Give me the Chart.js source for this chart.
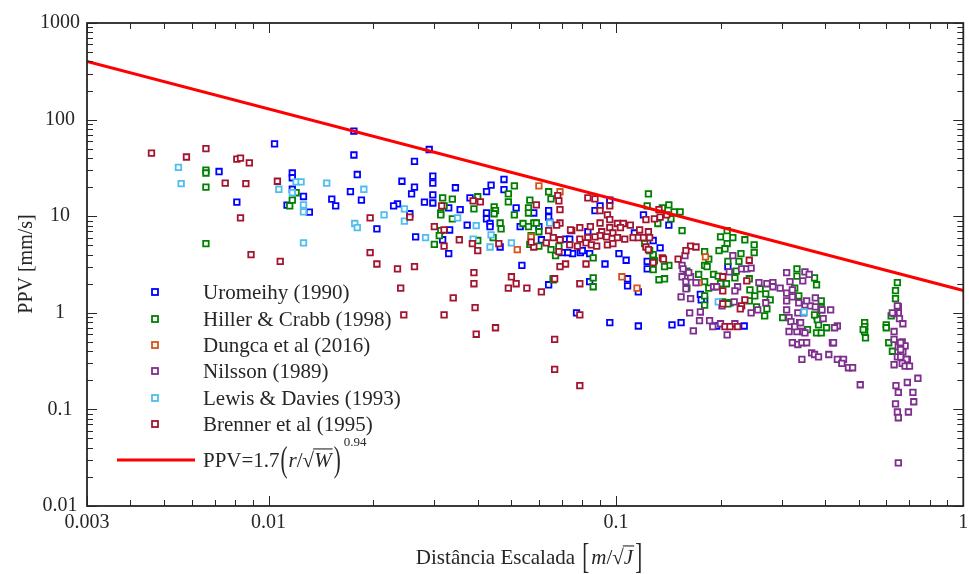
<!DOCTYPE html>
<html>
<head>
<meta charset="utf-8">
<script src="https://cdn.jsdelivr.net/npm/chart.js@4.4.1/dist/chart.umd.min.js"></script>
<style>
  html, body { margin: 0; padding: 0; background: #fff; }
  canvas { display: block; }
</style>
</head>
<body>
<canvas id="ppvChart" width="969" height="574"></canvas>
<script>
// dados: [distância escalada, PPV]
const uromeihy = [
  [0.0104,56],[0.0072,29],[0.0117,28],[0.0117,25],[0.0117,19],[0.0126,16],[0.0113,13],[0.0131,11],[0.0081,14],
  [0.0176,76],[0.029,49],[0.0176,43],[0.0263,37],[0.018,27],[0.0242,23],[0.0297,26],[0.0297,22],[0.0263,20],
  [0.0172,18],[0.0152,15],[0.0185,14.7],[0.0156,12.8],[0.0258,17],[0.0297,16.6],[0.0345,19.7],[0.0235,13.4],
  [0.0229,12.8],[0.0281,14],[0.0297,13.7],[0.0255,10.6],[0.0205,7.4],[0.0265,6.1],[0.0332,7.2],[0.033,12.2],
  [0.0356,11.7],[0.0317,5.7],[0.033,4.1],[0.0373,8.1],[0.038,15.5],[0.0437,21],[0.0476,24],[0.0424,18],
  [0.0476,18.8],[0.0424,10.8],[0.0424,9.4],[0.0434,8.4],[0.0434,7.8],[0.0464,4.8],[0.0516,12.2],
  [0.0536,3.1],[0.064,1.95],[0.077,1.0],[0.096,0.79],[0.084,2.1],[0.093,3.2],[0.079,4.3],[0.075,4.1],[0.061,5.7],
  [0.058,10.8],[0.064,11.4],[0.064,9.8],[0.0645,8.7],[0.060,7.8],[0.053,7.8],[0.0716,5.8],[0.0736,5.8],[0.083,6.9],
  [0.070,4.2],[0.0727,4.2],[0.079,4.2],[0.084,4.1],[0.080,4.4],[0.102,4.1],[0.107,3.5],[0.087,11.4],[0.090,12.8],
  [0.096,14.7],[0.113,6.7],[0.120,10.3],[0.128,5.6],[0.134,4.7],[0.142,8.1],[0.123,3.4],[0.123,2.85],[0.108,2.25],
  [0.108,1.9],[0.116,1.65],[0.177,1.5],[0.21,3.0],[0.195,0.73],[0.234,0.73],[0.154,0.79],[0.145,0.75],[0.116,0.73],
  [0.175,1.55],[0.18,1.36],[0.176,1.36]
];
const hillerCrabb = [
  [0.0066,30],[0.0066,28],[0.0066,20],[0.0066,5.2],[0.012,17.5],[0.0117,14.7],[0.0115,12.8],
  [0.0317,15.5],[0.0338,15],[0.032,12.8],[0.0313,10.8],[0.0313,10.3],[0.0338,9.4],[0.0313,7.1],[0.031,6.3],[0.030,5.1],
  [0.040,15.9],[0.039,11.9],[0.0446,12.5],[0.045,11.4],[0.0446,10.6],[0.0464,8.5],[0.0467,7.4],[0.049,14.1],[0.049,17],
  [0.051,20.6],[0.051,10.3],[0.0443,6.0],[0.040,5.6],
  [0.086,2.3],[0.086,1.86],[0.066,2.2],[0.086,3.7],[0.065,4.5],[0.0685,4.9],
  [0.064,17.9],[0.065,15.1],[0.0565,14.7],[0.056,12.2],[0.056,10.8],[0.054,8.4],[0.058,8.5],[0.059,8.5],[0.060,6.9],
  [0.056,7.8],[0.057,6.3],[0.0565,5.1],[0.060,4.9],[0.067,3.9],[0.066,2.25],
  [0.124,17],[0.123,12.8],[0.136,12.2],[0.142,13.1],[0.147,11.1],[0.153,11.1],[0.144,9.4],[0.132,8.4],[0.121,5.2],
  [0.128,3.8],[0.142,3.1],[0.138,2.25],[0.133,2.2],[0.155,7.1],[0.173,2.5],[0.18,4.3],[0.18,3.1],
  [0.20,6.1],[0.217,6.0],[0.209,5.2],[0.206,4.6],[0.198,4.4],[0.235,5.7],[0.25,5.05],[0.25,4.2],[0.226,3.4],[0.21,3.4],
  [0.222,2.7],[0.22,2.3],[0.208,2.0],[0.20,2.0],[0.191,2.5],[0.197,2.4],[0.183,3.0],[0.185,3.6],[0.18,2.1],[0.185,1.8],
  [0.18,1.5],[0.18,1.2],[0.16,2.7],[0.16,2.36],[0.16,1.8],[0.138,3.0],[0.128,4.0],[0.129,3.45],[0.128,2.8],[0.125,4.4],
  [0.251,1.5],[0.27,1.57],[0.278,1.36],[0.272,1.1],[0.268,0.93],[0.302,0.89],[0.26,1.77],[0.203,1.3],[0.213,1.27],
  [0.243,1.73],[0.242,2.25],[0.242,1.33],[0.209,7.1],[0.229,4.1],[0.21,1.24],[0.254,1.15],
  [0.332,2.85],[0.332,2.4],[0.373,2.3],[0.378,1.95],[0.327,1.8],[0.336,1.5],[0.39,1.33],[0.39,1.13],[0.378,0.93],
  [0.387,0.87],[0.404,0.70],[0.383,0.75],[0.378,0.62],[0.39,0.62],[0.356,0.67],[0.38,0.85],[0.373,0.95],[0.39,1.07],
  [0.52,0.79],[0.52,0.72],[0.52,0.64],[0.523,0.55],[0.515,0.67],[0.60,0.75],[0.60,0.70],[0.646,2.05],[0.638,1.7],
  [0.638,1.4],[0.62,0.93],[0.61,0.49],[0.625,0.40],[0.65,1.15]
];
const dungca = [
  [0.052,4.5],[0.060,20.6],[0.069,17.9],[0.057,6.1],[0.104,2.36],[0.115,1.8],[0.181,3.8],[0.173,2.05]
];
const nilsson = [
  [0.158,3.9],[0.155,3.1],[0.156,2.85],[0.155,2.36],[0.159,2.1],[0.164,2.36],[0.17,2.05],[0.154,1.46],[0.164,1.4],
  [0.162,2.6],[0.159,1.77],[0.163,1.0],[0.175,1.02],[0.174,0.83],[0.167,0.65],[0.186,0.83],[0.19,0.72],[0.20,0.77],
  [0.209,0.59],[0.22,0.77],[0.217,3.9],[0.212,2.65],[0.224,1.86],[0.22,1.69],[0.219,1.3],[0.23,2.85],[0.238,2.85],
  [0.245,2.9],[0.191,1.86],[0.195,1.86],[0.202,1.18],[0.245,1.0],[0.256,1.07],[0.27,1.27],[0.258,2.05],[0.272,2.0],
  [0.283,2.05],[0.283,1.86],[0.297,1.8],[0.31,2.6],[0.317,2.1],[0.31,1.6],[0.31,1.33],[0.31,1.07],[0.315,0.89],
  [0.315,0.64],[0.322,0.49],[0.334,0.47],[0.343,0.49],[0.354,0.49],[0.338,0.79],[0.345,0.64],[0.332,0.64],
  [0.366,0.385],[0.373,0.37],[0.383,0.35],[0.343,0.33],[0.41,0.37],[0.42,0.49],[0.434,0.73],[0.426,0.70],[0.434,0.33],
  [0.452,0.33],[0.447,0.30],[0.467,0.27],[0.48,0.27],[0.505,0.18],[0.415,1.07],[0.35,2.65],[0.36,2.5],[0.345,2.14],
  [0.322,1.73],[0.322,1.46],[0.336,1.27],[0.35,1.21],[0.363,1.18],[0.354,1.33],[0.375,1.43],[0.375,1.15],[0.392,1.07],
  [0.334,1.0],[0.347,1.0],[0.319,0.81],[0.327,0.72],[0.34,0.79],[0.35,0.62],[0.395,0.87],[0.423,0.49],
  [0.65,1.15],[0.65,1.0],[0.632,0.98],[0.655,0.87],[0.67,0.77],[0.632,0.64],[0.632,0.53],[0.667,0.50],[0.65,0.445],
  [0.67,0.445],[0.68,0.455],[0.67,0.395],[0.646,0.35],[0.69,0.33],[0.66,0.49],[0.66,0.415],[0.66,0.35],[0.686,0.33],
  [0.632,0.29],[0.667,0.30],[0.68,0.28],[0.70,0.28],[0.74,0.21],[0.69,0.19],[0.64,0.176],[0.65,0.15],[0.716,0.15],
  [0.72,0.12],[0.638,0.114],[0.646,0.094],[0.695,0.094],[0.65,0.082],[0.65,0.028],[0.646,1.18],[0.625,1.0]
];
const lewisDavies = [
  [0.0055,32],[0.0056,21.7],[0.0107,19],[0.012,22.7],[0.0124,22.7],[0.0147,22],[0.0117,17.5],[0.0126,13.1],
  [0.0126,11.1],[0.0126,5.3],[0.0188,19],[0.0246,11.9],[0.0246,8.9],[0.0215,10.3],[0.0177,8.4],[0.018,7.6],
  [0.0283,6.0],[0.035,9.6],[0.0396,8.0],[0.0388,5.8],[0.0437,6.4],[0.0434,4.8],[0.050,5.3],[0.0645,8.5],
  [0.197,1.3],[0.348,1.02]
];
const brenner = [
  [0.0046,45],[0.0058,41],[0.0066,50],[0.0081,39],[0.0083,40],[0.0088,35.7],[0.0075,22],[0.0086,21.7],[0.0106,23],
  [0.0083,9.6],[0.0089,4.0],[0.0108,3.4],
  [0.0196,9.6],[0.0196,4.2],[0.0205,3.2],[0.0235,2.85],[0.0263,3.0],[0.024,1.8],[0.030,7.8],[0.032,7.2],[0.032,4.9],
  [0.0354,5.7],[0.0386,5.2],[0.040,4.4],[0.039,2.6],[0.039,2.0],[0.034,1.43],[0.0315,12.8],[0.0255,9.8],[0.0388,14.4],
  [0.0407,14.1],[0.046,5.2],[0.050,2.36],[0.049,1.8],[0.0516,2.0],
  [0.0245,0.95],[0.032,0.95],[0.0393,1.13],[0.0396,0.60],[0.045,0.70],[0.0554,1.8],[0.061,1.65],[0.0666,2.25],
  [0.0666,0.53],[0.0666,0.26],[0.0787,2.0],[0.0787,0.95],[0.0787,0.176],[0.0716,3.2],[0.069,3.0],[0.082,3.2],
  [0.058,4.8],[0.063,5.3],[0.0685,4.3],
  [0.059,13.1],[0.068,16.3],[0.0685,14.4],[0.069,11.7],[0.069,8.5],[0.0675,8.1],[0.064,7.1],[0.066,6.0],[0.057,5.4],
  [0.069,5.7],[0.0746,7.1],[0.0787,7.6],[0.0844,7.8],[0.083,15.5],[0.087,15.1],[0.090,11.4],[0.0945,10.3],[0.096,12.8],
  [0.096,9.2],[0.090,8.5],[0.091,6.9],[0.096,7.6],[0.101,8.4],[0.105,8.4],[0.11,8.1],[0.103,7.6],[0.098,6.7],[0.094,6.1],
  [0.090,6.3],[0.087,6.1],[0.083,6.0],[0.082,5.3],[0.085,5.05],[0.088,4.9],[0.0945,5.05],[0.098,5.2],[0.101,6.0],
  [0.106,5.8],[0.112,6.0],[0.116,6.0],[0.12,6.0],[0.117,7.2],[0.122,9.2],[0.124,6.9],[0.125,6.0],[0.129,9.4],[0.134,9.8],
  [0.122,4.8],[0.124,4.5],[0.128,3.3],[0.136,3.7],[0.151,3.6],[0.164,4.9],[0.17,4.8],[0.0736,5.05],[0.0775,4.9],
  [0.0787,5.8],[0.074,7.2],[0.133,11.7],[0.14,10.3],
  [0.242,3.5],[0.203,2.36],[0.203,1.69],[0.238,2.14],[0.235,1.36],[0.23,1.18],[0.228,1.1],[0.206,0.72],[0.213,0.72],
  [0.224,0.72],[0.159,4.4],[0.137,3.6],[0.203,1.24]
];
// reta PPV = 1.7 (r/sqrt(W))^-0.94, extremos
const ppvLineX = [0.003, 1];
const ppvLineY = [400, 1.7];

const xTickLabels = [0.003, 0.01, 0.1, 1];
const yTickLabels = [0.01, 0.1, 1, 10, 100, 1000];

const serif = '"Liberation Serif", "Times New Roman", serif';
const axisColor = '#262626';

const toPoints = arr => arr.map(p => ({ x: p[0], y: p[1] }));

function scatterSet(label, data, color, order) {
    return {
        label, data: toPoints(data), order,
        pointStyle: 'rect', pointRadius: 3.9, pointHoverRadius: 3.9,
        borderColor: color, backgroundColor: '#ffffff', borderWidth: 1.8,
        showLine: false
    };
}

// valores dos ticks menores (2..9 de cada década)
function minorValues(min, max) {
    const out = [];
    for (let d = 0.001; d < max * 10; d *= 10) {
        for (let k = 1; k < 10; k++) {
            const v = +(d * k).toPrecision(3);
            if (v >= min - 1e-12 && v <= max + 1e-12) out.push(v);
        }
    }
    return out;
}

// desenha uma sequência de pedaços de texto (itálico, expoente, parêntese alto, raiz com barra)
function runPieces(ctx, pieces, x, y, size, draw) {
    let cx = x;
    let barStart = null;
    for (const p of pieces) {
        const fs = p.sup ? Math.round(size * 0.62) : size;
        ctx.font = `${p.italic ? 'italic ' : ''}${fs}px ${serif}`;
        const w = ctx.measureText(p.text).width;
        if (draw) {
            if (p.tall) {
                ctx.save();
                ctx.translate(cx, y - size * 0.28);
                ctx.scale(1, p.tall);
                ctx.fillText(p.text, 0, size * 0.28);
                ctx.restore();
            } else {
                ctx.fillText(p.text, cx, p.sup ? y - size * 1.0 : y);
            }
            if (p.root) barStart = cx + w - 1;
            if (p.under && barStart !== null) {
                ctx.save();
                ctx.strokeStyle = ctx.fillStyle;
                ctx.lineWidth = 1.1;
                ctx.beginPath();
                ctx.moveTo(barStart, y - size * 0.86);
                ctx.lineTo(cx + w + 1, y - size * 0.86);
                ctx.stroke();
                ctx.restore();
                barStart = null;
            }
        }
        cx += w + (p.gap || 0);
    }
    return cx - x;
}

const xTitlePieces = [
    { text: 'Distância Escalada ', gap: 2 },
    { text: '[', tall: 1.75, gap: 2 },
    { text: 'm', italic: true },
    { text: '/' },
    { text: '√', root: true },
    { text: 'J', italic: true, under: true, gap: 2 },
    { text: ']', tall: 1.75 }
];
const formulaPieces = [
    { text: 'PPV=1.7', gap: 1 },
    { text: '(', tall: 1.7, gap: 1 },
    { text: 'r', italic: true },
    { text: '/' },
    { text: '√', root: true },
    { text: 'W', italic: true, under: true, gap: 2 },
    { text: ')', tall: 1.7, gap: 3 },
    { text: '0.94', sup: true }
];

const framePlugin = {
    id: 'frame',
    afterDraw(chart) {
        const { ctx, chartArea: a, scales: { x, y } } = chart;
        ctx.save();
        ctx.strokeStyle = axisColor;
        ctx.fillStyle = axisColor;

        // ticks para dentro, em baixo/cima e esquerda/direita
        ctx.lineWidth = 1;
        ctx.beginPath();
        minorValues(0.003, 1).forEach(v => {
            const px = Math.round(x.getPixelForValue(v)) + 0.5;
            const len = xTickLabels.includes(v) ? 10 : 6;
            ctx.moveTo(px, a.bottom); ctx.lineTo(px, a.bottom - len);
            ctx.moveTo(px, a.top); ctx.lineTo(px, a.top + len);
        });
        minorValues(0.01, 1000).forEach(v => {
            const py = Math.round(y.getPixelForValue(v)) + 0.5;
            const len = yTickLabels.includes(v) ? 10 : 6;
            ctx.moveTo(a.left, py); ctx.lineTo(a.left + len, py);
            ctx.moveTo(a.right, py); ctx.lineTo(a.right - len, py);
        });
        ctx.stroke();

        ctx.lineWidth = 1.8;
        ctx.strokeRect(a.left, a.top, a.right - a.left, a.bottom - a.top);

        // rótulos dos eixos
        ctx.font = `20px ${serif}`;
        ctx.textBaseline = 'middle';
        ctx.textAlign = 'center';
        xTickLabels.forEach(v => ctx.fillText(String(v), x.getPixelForValue(v), a.bottom + 17));
        yTickLabels.forEach(v => ctx.fillText(String(v), 60, y.getPixelForValue(v)));

        // título do eixo y
        ctx.save();
        ctx.translate(27, 264);
        ctx.rotate(-Math.PI / 2);
        ctx.font = `20px ${serif}`;
        ctx.fillText('PPV [mm/s]', 0, 0);
        ctx.restore();

        // título do eixo x
        ctx.textAlign = 'left';
        ctx.textBaseline = 'alphabetic';
        const tw = runPieces(ctx, xTitlePieces, 0, 0, 21, false);
        runPieces(ctx, xTitlePieces, 529 - tw / 2, 564, 21, true);

        // legenda
        const rowsY = [292, 319, 345, 371, 398, 424];
        chart.data.datasets.slice(0, 6).forEach((ds, i) => {
            const cy = rowsY[i];
            ctx.fillStyle = '#ffffff';
            ctx.fillRect(152, cy - 3, 6, 6);
            ctx.strokeStyle = ds.borderColor;
            ctx.lineWidth = 1.8;
            ctx.strokeRect(152, cy - 3, 6, 6);
            ctx.fillStyle = axisColor;
            ctx.font = `21px ${serif}`;
            ctx.fillText(ds.label, 203, cy + 7);
        });
        const lineDs = chart.data.datasets[6];
        ctx.strokeStyle = lineDs.borderColor;
        ctx.lineWidth = 3;
        ctx.beginPath();
        ctx.moveTo(117, 460); ctx.lineTo(195, 460);
        ctx.stroke();
        ctx.fillStyle = axisColor;
        runPieces(ctx, formulaPieces, 203, 467, 21, true);
        ctx.restore();
    }
};

const ctx = document.getElementById('ppvChart').getContext('2d');
new Chart(ctx, {
    type: 'scatter',
    data: {
        datasets: [
            scatterSet('Uromeihy (1990)', uromeihy, '#0000ff', 7),
            scatterSet('Hiller & Crabb (1998)', hillerCrabb, '#008000', 6),
            scatterSet('Dungca et al (2016)', dungca, '#d95319', 5),
            scatterSet('Nilsson (1989)', nilsson, '#7e2f8e', 4),
            scatterSet('Lewis & Davies (1993)', lewisDavies, '#4dbeee', 3),
            scatterSet('Brenner et al (1995)', brenner, '#a2142f', 2),
            {
                label: 'PPV', type: 'line', order: 1,
                data: ppvLineX.map((v, i) => ({ x: v, y: ppvLineY[i] })),
                borderColor: '#ff0000', borderWidth: 3, pointRadius: 0, fill: false
            }
        ]
    },
    options: {
        responsive: false,
        animation: false,
        devicePixelRatio: 1,
        events: [],
        layout: { padding: { top: 23, right: 0, left: 0, bottom: 0 } },
        plugins: { legend: { display: false }, tooltip: { enabled: false } },
        scales: {
            x: {
                type: 'logarithmic', min: 0.003, max: 1,
                grid: { display: false }, border: { display: false },
                ticks: { display: false },
                afterFit: s => { s.height = 68; }
            },
            y: {
                type: 'logarithmic', min: 0.01, max: 1000,
                grid: { display: false }, border: { display: false },
                ticks: { display: false },
                afterFit: s => { s.width = 87; }
            }
        }
    },
    plugins: [framePlugin]
});
</script>
</body>
</html>
